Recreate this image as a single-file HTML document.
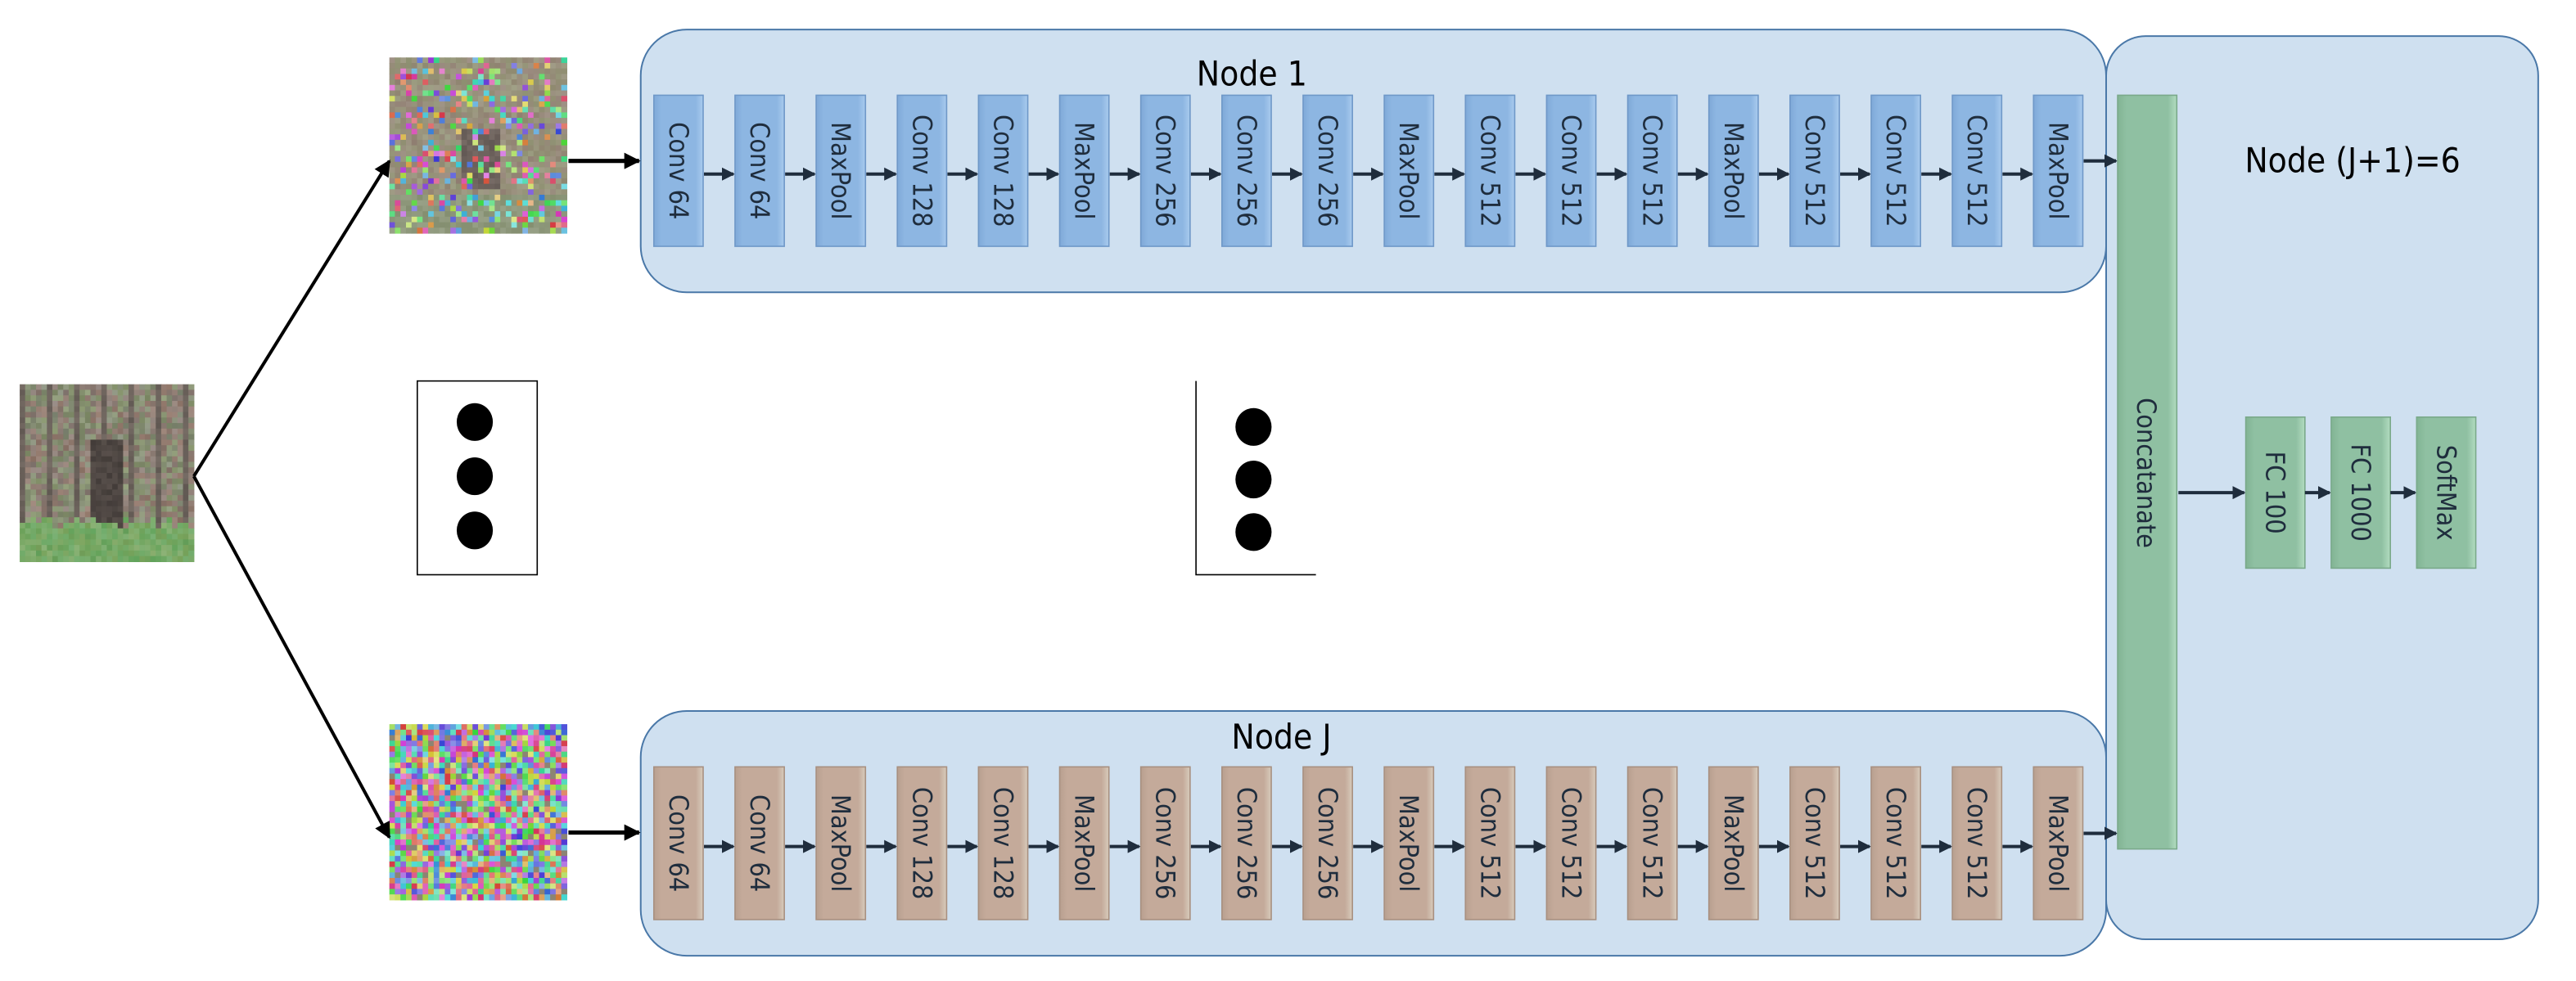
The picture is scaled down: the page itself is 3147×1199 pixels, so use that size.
<!DOCTYPE html>
<html><head><meta charset="utf-8"><style>
html,body{margin:0;padding:0;background:#fff;}
svg{display:block;}
text{font-family:"Liberation Sans",sans-serif;}
.bl{font-family:"DejaVu Sans Condensed","Liberation Sans",sans-serif;}
</style></head><body>
<svg id="s" width="3147" height="1199" viewBox="0 0 1568 597.4" preserveAspectRatio="none" xmlns="http://www.w3.org/2000/svg">
<defs>
<linearGradient id="gb" x1="0" x2="1"><stop offset="0" stop-color="#7fa9d8"/><stop offset="0.15" stop-color="#8db6e2"/><stop offset="0.85" stop-color="#8db6e2"/><stop offset="1" stop-color="#a9cbee"/></linearGradient>
<linearGradient id="gr" x1="0" x2="1"><stop offset="0" stop-color="#b8a090"/><stop offset="0.15" stop-color="#c4aa9a"/><stop offset="0.85" stop-color="#c4aa9a"/><stop offset="1" stop-color="#d8ccbc"/></linearGradient>
<linearGradient id="gg" x1="0" x2="1"><stop offset="0" stop-color="#82b494"/><stop offset="0.15" stop-color="#8fc0a2"/><stop offset="0.85" stop-color="#8fc0a2"/><stop offset="1" stop-color="#b2dcc0"/></linearGradient>
<marker id="ah" markerWidth="8" markerHeight="8" refX="7" refY="4" orient="auto" markerUnits="userSpaceOnUse"><path d="M0,0 L8,4 L0,8 z" fill="#1f2d3d"/></marker>
<marker id="ak" markerWidth="10" markerHeight="10" refX="9" refY="5" orient="auto" markerUnits="userSpaceOnUse"><path d="M0,0 L10,5 L0,10 z" fill="#000"/></marker>
</defs>
<rect x="1282" y="22" width="263" height="550" rx="24" fill="#cfe0f0" stroke="#4a78a8" stroke-width="1"/>
<rect x="390" y="18" width="892" height="160" rx="28" fill="#cfe0f0" stroke="#4a78a8" stroke-width="1"/>
<rect x="390" y="433" width="892" height="149" rx="28" fill="#cfe0f0" stroke="#4a78a8" stroke-width="1"/>
<text x="762" y="52" font-size="21" text-anchor="middle" class="bl">Node 1</text>
<text x="780" y="456" font-size="21" text-anchor="middle" class="bl">Node J</text>
<text x="1432" y="105" font-size="21" text-anchor="middle" class="bl">Node (J+1)=6</text>
<g id="rows"></g>
<rect x="1289" y="58" width="36" height="459" fill="url(#gg)" stroke="#7aa98a" stroke-width="0.8"/>
<text transform="translate(1301,288) rotate(90)" font-size="16" text-anchor="middle" fill="#1f2d3d" class="bl">Concatanate</text>
<line x1="1326" y1="300" x2="1366" y2="300" stroke="#1f2d3d" stroke-width="2" marker-end="url(#ah)"/>
<g id="fc"></g>
<g id="imgs"></g>
<line x1="118" y1="290" x2="237" y2="98" stroke="#000" stroke-width="2" marker-end="url(#ak)"/>
<line x1="118" y1="290" x2="237" y2="510" stroke="#000" stroke-width="2" marker-end="url(#ak)"/>
<line x1="346" y1="98" x2="389" y2="98" stroke="#000" stroke-width="2.5" marker-end="url(#ak)"/>
<line x1="346" y1="507" x2="389" y2="507" stroke="#000" stroke-width="2.5" marker-end="url(#ak)"/>
<rect x="254" y="232" width="73" height="118" fill="#fff" stroke="#000" stroke-width="0.8"/>
<ellipse cx="289" cy="257" rx="11" ry="11.5"/><ellipse cx="289" cy="290" rx="11" ry="11.5"/><ellipse cx="289" cy="323" rx="11" ry="11.5"/>
<path d="M728,232 V350 H801" fill="none" stroke="#000" stroke-width="0.8"/>
<ellipse cx="763" cy="260" rx="11" ry="11.5"/><ellipse cx="763" cy="292" rx="11" ry="11.5"/><ellipse cx="763" cy="324" rx="11" ry="11.5"/>
</svg>
<script>
var NS="http://www.w3.org/2000/svg";
function el(p,t,a,txt){var e=document.createElementNS(NS,t);for(var k in a)e.setAttribute(k,a[k]);if(txt)e.textContent=txt;p.appendChild(e);return e;}
var labels=["Conv 64","Conv 64","MaxPool","Conv 128","Conv 128","MaxPool","Conv 256","Conv 256","Conv 256","MaxPool","Conv 512","Conv 512","Conv 512","MaxPool","Conv 512","Conv 512","Conv 512","MaxPool"];
var rows=document.getElementById("rows");
[[58,150,"url(#gb)","#6f98c8"],[467,560,"url(#gr)","#a89080"]].forEach(function(r){
 var y0=r[0],y1=r[1],cy=(y0+y1)/2;
 for(var i=0;i<18;i++){var x=398+i*49.4;
  el(rows,"rect",{x:x,y:y0,width:30,height:y1-y0,fill:r[2],stroke:r[3],"stroke-width":0.8});
  el(rows,"text",{transform:"translate("+(x+9.5)+","+cy+") rotate(90)","font-size":16,"text-anchor":"middle",fill:"#1f2d3d","class":"bl"},labels[i]);
  var nx=i<17?398+(i+1)*49.4:1289;
  el(rows,"line",{x1:x+30.5,y1:cy+(i==17?-6:2),x2:nx-1,y2:cy+(i==17?-6:2),stroke:"#1f2d3d","stroke-width":2,"marker-end":"url(#ah)"});
 }
});
var fc=document.getElementById("fc");
[["FC 100",1367],["FC 1000",1419],["SoftMax",1471]].forEach(function(f,i){
 el(fc,"rect",{x:f[1],y:254,width:36,height:92,fill:"url(#gg)",stroke:"#7aa98a","stroke-width":0.8});
 el(fc,"text",{transform:"translate("+(f[1]+12.5)+",300) rotate(90)","font-size":16,"text-anchor":"middle",fill:"#1f2d3d","class":"bl"},f[0]);
 if(i<2)el(fc,"line",{x1:f[1]+36,y1:300,x2:f[1]+51,y2:300,stroke:"#1f2d3d","stroke-width":2,"marker-end":"url(#ah)"});
});
var g=document.getElementById("imgs");
var seed=7;function rnd(){seed=(seed*16807)%2147483647;return seed/2147483647;}
function hsl(h,s,l){return "hsl("+h+","+s+"%,"+l+"%)";}
var n=32,X=12,Y=234,W=106,H=108,cw=W/n,ch=H/n;
for(var i=0;i<n;i++)for(var j=0;j<n;j++){
 var c;
 if(j>23+rnd()*3) c=hsl(95+rnd()*20,28,48+rnd()*10);
 else if(i>12&&i<19&&j>9&&j<26) c=hsl(20,8,24+rnd()*8);
 else if(i%5==0) c=hsl(25,8,35+rnd()*8);
 else c=hsl(rnd()<0.5?20:80,8+rnd()*8,45+rnd()*12);
 el(g,"rect",{x:X+i*cw,y:Y+j*ch,width:cw+0.3,height:ch+0.3,fill:c});
}
function noisy(X,Y,mix,base){var n=32,cw=108/n,ch=107/n;
 for(var i=0;i<n;i++)for(var j=0;j<n;j++){var c;
  if(rnd()<mix) c=hsl(Math.floor(rnd()*360),65,52+rnd()*20);
  else c=base(i,j);
  el(g,"rect",{x:X+i*cw,y:Y+j*ch,width:cw+0.3,height:ch+0.3,fill:c});}}
noisy(237,35,0.3,function(i,j){ if(i>12&&i<20&&j>12&&j<24) return hsl(20,8,35+rnd()*8); return hsl(j>24?80:25+rnd()*40,12,50+rnd()*8);});
noisy(237,441,0.95,function(){return hsl(40,10,50);});
</script>
</body></html>
